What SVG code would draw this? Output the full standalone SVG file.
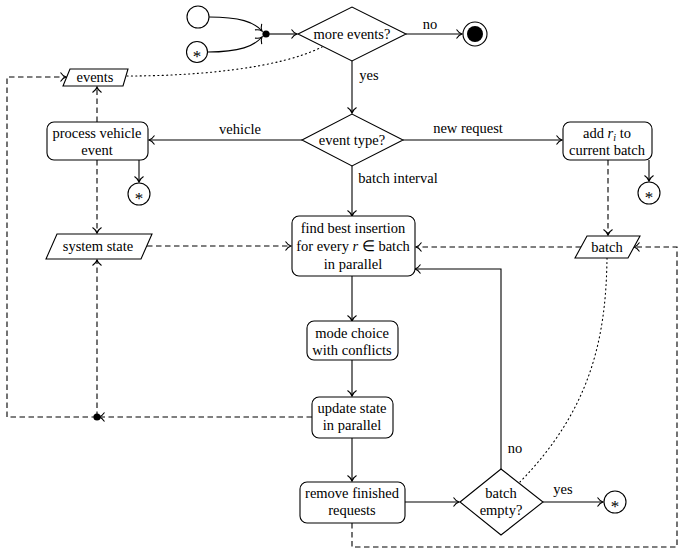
<svg xmlns="http://www.w3.org/2000/svg" width="685" height="556" viewBox="0 0 685 556">
<style>
text{font-family:"Liberation Serif","Times New Roman",serif;font-size:14.5px;fill:#000;text-anchor:middle}
.s{font-size:17px}
.n{fill:#fff;stroke:#000;stroke-width:1.1}
.c{fill:none;stroke:#000;stroke-width:1.1}
.d{stroke-dasharray:5.5 3.5}
.o{stroke-dasharray:1.1 3.3;stroke-linecap:round}
.a{marker-end:url(#ar)}
</style>
<defs>
<marker id="ar" viewBox="-7 -6 8 12" refX="0" refY="0" markerWidth="8" markerHeight="12" markerUnits="userSpaceOnUse" orient="auto">
<path d="M-5.5,-4.5 C-3.5,-1.5 -1.5,-0.4 0,0 C-1.5,0.4 -3.5,1.5 -5.5,4.5" fill="none" stroke="#000" stroke-width="1.1" stroke-dasharray="none"/>
</marker>
</defs>
<g id="connectors">
<path class="c a" d="M209,17 C240,17 254,22 262,31"/>
<path class="c a" d="M208,52 C240,52 254,46 262,37"/>
<path class="c a" d="M266,34 L297,34"/>
<path class="c a" d="M406,34 L462,34"/>
<path class="c a" d="M352,61 L352,113"/>
<path class="c a" d="M302,140 L149,140"/>
<path class="c a" d="M403,140 L562,140"/>
<path class="c a" d="M352,166 L352,216"/>
<path class="c a" d="M139,160 L139,182"/>
<path class="c a" d="M649,160 L649,181"/>
<path class="c a" d="M352,276 L352,321"/>
<path class="c a" d="M352,360 L352,396"/>
<path class="c a" d="M352,438 L352,481"/>
<path class="c a" d="M405,502 L459,502"/>
<path class="c a" d="M501,469 L501,269 L415,269"/>
<path class="c a" d="M543,502 L603,502"/>
<path class="c d a" d="M97,417 L7,417 L7,77 L66,77"/>
<path class="c d a" d="M97,122 L97,87"/>
<path class="c d a" d="M97,160 L97,233"/>
<path class="c d a" d="M97,417 L97,260"/>
<path class="c d a" d="M312,417 L99,417"/>
<path class="c d a" d="M147,246 L291,246"/>
<path class="c d a" d="M608,160 L608,235"/>
<path class="c d a" d="M581,247 L416,247"/>
<path class="c d a" d="M352,523 L352,547 L677,547 L677,247 L634,247"/>
<path class="c o" d="M127,76 C200,76 280,68 322,47"/>
<path class="c o" d="M607,258 C606,340 590,410 520,482"/>
<circle cx="97" cy="417" r="3.6" fill="#000"/>
<circle cx="266" cy="34" r="3.6" fill="#000"/>
<text x="430" y="29">no</text>
<text x="369" y="80">yes</text>
<text x="240" y="134">vehicle</text>
<text x="468" y="133">new request</text>
<text x="398" y="183">batch interval</text>
<text x="515" y="453">no</text>
<text x="563" y="494">yes</text>
</g>
<g id="start"><circle class="n" cx="198" cy="17" r="11"/></g>
<g id="star1"><circle class="n" cx="197" cy="52" r="10.5"/><text class="s" x="197" y="62">*</text></g>
<g id="moreEvents"><polygon class="n" points="298,34 352,7 406,34 352,61"/><text x="352" y="39">more events?</text></g>
<g id="end"><circle class="n" cx="475" cy="34" r="12"/><circle cx="475" cy="34" r="8" fill="#000"/></g>
<g id="events"><polygon class="n" points="70,69 128,69 123,86 63,86"/><text x="95" y="82">events</text></g>
<g id="eventType"><polygon class="n" points="302,140 352,114 403,140 352,166"/><text x="352" y="145">event type?</text></g>
<g id="processVehicle"><rect class="n" x="47" y="122" width="101" height="38" rx="7"/><text x="97" y="138">process vehicle</text><text x="97" y="155">event</text></g>
<g id="star2"><circle class="n" cx="139" cy="194" r="11"/><text class="s" x="139" y="204">*</text></g>
<g id="addRi"><rect class="n" x="563" y="122" width="89" height="38" rx="7"/><text x="607" y="138">add <tspan font-style="italic">r</tspan><tspan font-style="italic" font-size="10px" dy="3">i</tspan><tspan dy="-3"> to</tspan></text><text x="607" y="155">current batch</text></g>
<g id="star3"><circle class="n" cx="649" cy="193" r="11"/><text class="s" x="649" y="203">*</text></g>
<g id="systemState"><polygon class="n" points="57,234 152,234 141,259 46,259"/><text x="98" y="251">system state</text></g>
<g id="findBest"><rect class="n" x="292" y="216" width="123" height="60" rx="7"/><text x="353" y="233">find best insertion</text><text x="353" y="251">for every <tspan font-style="italic">r</tspan> ∈ batch</text><text x="353" y="269">in parallel</text></g>
<g id="batch"><polygon class="n" points="587,236 640,236 628,258 575,258"/><text x="607" y="252">batch</text></g>
<g id="modeChoice"><rect class="n" x="307" y="321" width="91" height="39" rx="7"/><text x="352" y="338">mode choice</text><text x="352" y="355">with conflicts</text></g>
<g id="updateState"><rect class="n" x="312" y="397" width="81" height="41" rx="7"/><text x="352" y="413">update state</text><text x="352" y="430">in parallel</text></g>
<g id="removeFinished"><rect class="n" x="300" y="482" width="105" height="41" rx="7"/><text x="352" y="498">remove finished</text><text x="352" y="515">requests</text></g>
<g id="batchEmpty"><polygon class="n" points="460,502 501,469 543,502 501,535"/><text x="501" y="498">batch</text><text x="501" y="515">empty?</text></g>
<g id="star4"><circle class="n" cx="615" cy="502" r="11"/><text class="s" x="615" y="512">*</text></g>
</svg>
